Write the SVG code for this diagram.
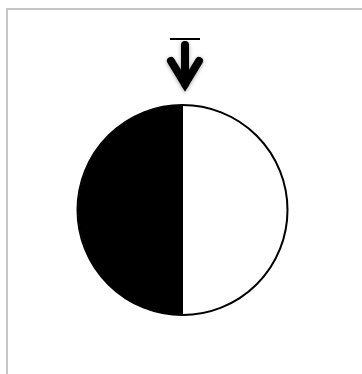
<svg xmlns="http://www.w3.org/2000/svg" width="362" height="374" viewBox="0 0 362 374">
<defs>
<style>
.frame{fill:none;stroke:#c6c6c6;stroke-width:2}
.arrow{fill:none;stroke:#000;stroke-linecap:round;stroke-linejoin:round}
.head{stroke-linejoin:miter;stroke-miterlimit:10}
</style>
<filter id="sh" x="-50%" y="-50%" width="200%" height="200%">
<feGaussianBlur in="SourceAlpha" stdDeviation="2"/>
<feOffset dx="0" dy="1" result="b"/>
<feComponentTransfer><feFuncA type="linear" slope="0.35"/></feComponentTransfer>
<feMerge><feMergeNode/><feMergeNode in="SourceGraphic"/></feMerge>
</filter>
</defs>
<rect width="362" height="374" fill="#fff"/>
<rect class="frame" x="7" y="9" width="370" height="380"/>
<g id="disk">
<circle cx="182.5" cy="210" r="105" fill="#fff" stroke="#000" stroke-width="2"/>
<path d="M183,105 A105,105 0 0 0 183,315 Z" fill="#000"/>
</g>
<g id="marker">
<line x1="170" y1="39" x2="200" y2="39" stroke="#000" stroke-width="2"/>
<g filter="url(#sh)">
<line class="arrow" x1="185" y1="45" x2="185" y2="84" stroke-width="8"/>
<polyline class="arrow head" points="171,61 185,84 199,61" stroke-width="8"/>
</g>
</g>
</svg>
